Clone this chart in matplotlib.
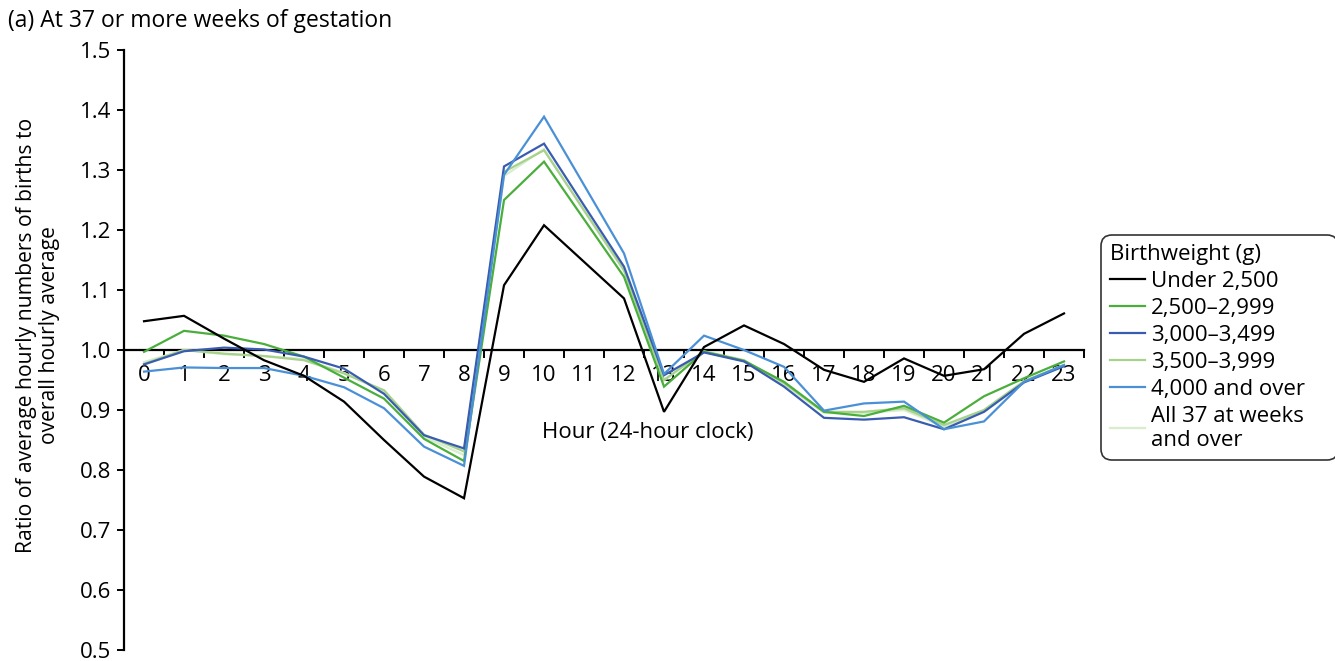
import numpy as np
from matplotlib import pyplot as plt
from matplotlib.lines import Line2D

plt.rcParams['font.family'] = ['Open Sans', 'DejaVu Sans']

# Hour of day (24-hour clock)
hours = list(range(24))

# Ratio of average hourly births to overall hourly average, by birthweight
under2500 = [1.048, 1.057, 1.019, 0.983, 0.957, 0.914, 0.850, 0.789, 0.753, 1.108, 1.208, 1.147,
             1.086, 0.897, 1.005, 1.041, 1.010, 0.967, 0.947, 0.986, 0.957, 0.968, 1.027, 1.061]
w2500_2999 = [0.997, 1.032, 1.024, 1.010, 0.989, 0.954, 0.919, 0.852, 0.815, 1.250, 1.314, 1.218,
              1.122, 0.939, 0.997, 0.982, 0.947, 0.897, 0.890, 0.907, 0.879, 0.923, 0.953, 0.981]
w3000_3499 = [0.976, 0.998, 1.004, 1.001, 0.989, 0.969, 0.927, 0.858, 0.836, 1.306, 1.344, 1.241,
              1.139, 0.958, 0.996, 0.981, 0.939, 0.887, 0.884, 0.888, 0.868, 0.897, 0.946, 0.973]
w3500_3999 = [0.977, 1.000, 0.994, 0.990, 0.983, 0.961, 0.933, 0.859, 0.831, 1.297, 1.333, 1.233,
              1.133, 0.950, 0.998, 0.983, 0.945, 0.897, 0.897, 0.903, 0.875, 0.900, 0.948, 0.975]
w4000plus = [0.964, 0.971, 0.970, 0.970, 0.957, 0.938, 0.903, 0.839, 0.807, 1.292, 1.389, 1.275,
             1.161, 0.960, 1.024, 1.000, 0.972, 0.899, 0.911, 0.914, 0.868, 0.881, 0.947, 0.975]
all37 = [0.980, 1.000, 0.993, 0.990, 0.985, 0.962, 0.930, 0.855, 0.825, 1.290, 1.335, 1.232,
         1.132, 0.950, 0.997, 0.982, 0.943, 0.895, 0.895, 0.900, 0.872, 0.900, 0.948, 0.975]

series = [under2500, w2500_2999, w3000_3499, w3500_3999, w4000plus, all37]
labels = ['Under 2,500', '2,500\u20132,999', '3,000\u20133,499', '3,500\u20133,999',
          '4,000 and over', 'All 37 at weeks\nand over']
colours = ['#000000', '#4aae3c', '#3a5cb0', '#a6d28c', '#4a90d6', '#d8ecce']
yticks = [0.5, 0.6, 0.7, 0.8, 0.9, 1.0, 1.1, 1.2, 1.3, 1.4, 1.5]

fs = 16

fig = plt.figure(figsize=(13.35, 6.61), dpi=100)
ax = fig.add_axes([0.0929, 0.0166, 0.7191, 0.9077])

# draw the lightest lines first so the darker ones sit on top
order = [5, 3, 1, 2, 4, 0]
for i in order:
    ax.plot(hours, series[i], color=colours[i], lw=1.6, solid_joinstyle='miter', zorder=3)

ax.set_xlim(-0.5, 23.5)
ax.set_ylim(0.5, 1.5)

# x axis crosses at 1.0
for s in ['top', 'right']:
    ax.spines[s].set_visible(False)
ax.spines['bottom'].set_position(('data', 1.0))
ax.spines['bottom'].set_linewidth(1.6)
ax.spines['left'].set_linewidth(1.6)
ax.spines['bottom'].set_zorder(2)

ax.set_xticks(hours)
ax.set_xticklabels([str(h) for h in hours])
ax.set_xticks(np.arange(-0.5, 24, 1), minor=True)
ax.tick_params(axis='x', which='major', length=0, pad=11, labelsize=fs)
ax.tick_params(axis='x', which='minor', length=6, width=1.4, direction='out')

ax.set_yticks(yticks)
ax.set_yticklabels(['{:.1f}'.format(v) for v in yticks])
ax.tick_params(axis='y', length=5, width=1.4, direction='out', labelsize=fs, pad=4)

ax.text(12.6, 0.862, 'Hour (24-hour clock)', ha='center', va='center', fontsize=fs)

fig.text(0.006, 0.968, '(a) At 37 or more weeks of gestation', ha='left', va='center', fontsize=16.5)
fig.text(0.0285, 0.493, 'Ratio of average hourly numbers of births to\noverall hourly average',
         rotation=90, ha='center', va='center', fontsize=15.2, linespacing=1.1)

handles = [Line2D([0], [0], color=colours[i], lw=1.6) for i in range(len(series))]
leg = fig.legend(handles, labels, title='Birthweight (g)', loc='upper left',
                 bbox_to_anchor=(0.8245, 0.645, 0.178, 0), mode='expand', borderaxespad=0,
                 fontsize=fs, title_fontsize=fs,
                 frameon=True, fancybox=True, handlelength=1.6, handletextpad=0.25,
                 borderpad=0.4, labelspacing=0.27, alignment='left')
leg.get_frame().set_edgecolor('black')
leg.get_frame().set_linewidth(1.2)
leg.get_frame().set_boxstyle('round', pad=0, rounding_size=0.5)

plt.savefig('out.png', dpi=100)
